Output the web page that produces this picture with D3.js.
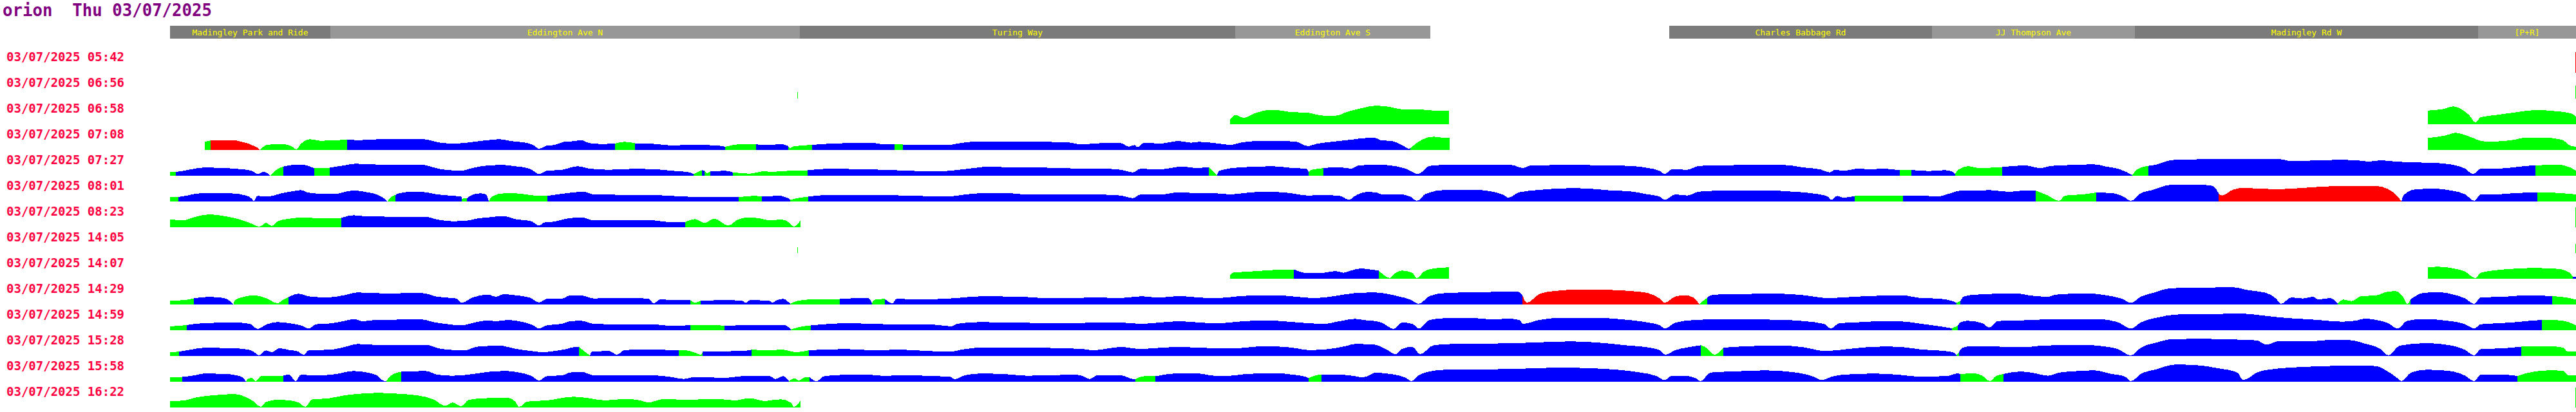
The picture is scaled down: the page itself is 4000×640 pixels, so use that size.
<!DOCTYPE html>
<html><head><meta charset="utf-8">
<script src="https://cdn.jsdelivr.net/npm/d3@7"></script>
<style>body{margin:0;background:#fff}svg{display:block}</style>
</head><body>
<script>
// ---------- data ----------
const vehicle = "orion";
const dayLabel = "Thu 03/07/2025";
const tripLabels = ["03/07/2025 05:42","03/07/2025 06:56","03/07/2025 06:58","03/07/2025 07:08",
  "03/07/2025 07:27","03/07/2025 08:01","03/07/2025 08:23","03/07/2025 14:05","03/07/2025 14:07",
  "03/07/2025 14:29","03/07/2025 14:59","03/07/2025 15:28","03/07/2025 15:58","03/07/2025 16:22"];
const stopNames = ["Madingley Park and Ride","Eddington Ave N","Turing Way","Eddington Ave S","",
  "Charles Babbage Rd","JJ Thompson Ave","Madingley Rd W","[P+R]"];
const stopBounds = [0,249,978,1654,1957,2328,2736,3051,3584,3736];
const routeLength = 3736;

// each point: [distance, speed, status-from-here]  (g = early/on time, b = on time, r = late, - = no data)
const t0542 = [];
const t0656 = [];
const t0658 = [[1646,7.7,"g"],[1655,14.3],[1661,12],[1667,10],[1682,16],[1707,22],[1719,22],[1737,19.3],[1767,17.7],[1792,13.3],[1810,13.3],[1828,19.3],[1852,25.3],[1871,28.7],[1889,27.7],[1913,23.3],[1944,22.7],[1962,21.3],[1986,21,"-"],[3506,21.3,"g"],[3528,23.3],[3546,27.7],[3558,23.3],[3570,14.3],[3580,2.7],[3588,11],[3612,14.3],[3648,19.3],[3672,22],[3708,20],[3729,16.7],[3736,12]];
const t0708 = [[54,13,"g"],[63,14.7,"r"],[70,14.7],[103,14.7],[109,13.3],[118,11],[127,7.7],[136,3.3],[140,0,"g"],[150,7.7],[161,8.7],[179,8.7],[191,4.3],[196,1],[203,9.3],[218,16.7],[233,14.3],[245,14.7],[275,16,"b"],[294,15.3],[324,16.7],[355,17],[391,17],[403,15.3],[421,11],[445,10],[476,13.3],[494,15.3],[512,16.7],[530,13.7],[548,12],[564,7.7],[573,2],[585,6.7],[597,7.7],[612,12.7],[627,13.7],[639,15.3],[651,10.7],[670,9.3],[691,10,"g"],[706,12.7],[722,10.5,"b"],[755,9.3],[779,7],[797,7.7],[827,7.7],[852,6.7],[862,5,"g"],[888,9.3],[910,8.7,"b"],[931,7.7],[949,9.3],[960,6,"g"],[963,2.7],[967,5.3],[979,6.7],[997,8,"b"],[1052,10.7],[1095,10.7],[1107,8.7],[1125,9,"g"],[1138,8.5,"b"],[1173,7.7],[1210,7.7],[1222,10],[1258,13.3],[1295,12.7],[1343,12.7],[1392,12],[1416,8.7],[1446,10.7],[1476,10.7],[1489,5.3],[1498,7.7],[1502,4.3],[1513,11.3],[1537,10],[1567,14],[1585,11.3],[1598,12.7],[1628,10],[1646,8],[1664,11.7],[1688,14],[1719,14.3],[1749,12.7],[1767,6],[1779,9.3],[1804,12.7],[1834,16],[1858,18.7],[1871,18.7],[1880,15.3],[1898,13.7],[1913,7.7],[1924,2],[1926,3,"g"],[1944,16],[1962,20.7],[1980,18.7],[1987,18.7,"-"],[3506,18.7,"g"],[3534,22.7],[3549,26.7],[3570,21],[3594,13.3],[3612,13.3],[3636,15.3],[3660,19.3],[3684,19.3],[3714,16],[3729,6],[3736,5.3]];
const t0727 = [[0,6,"g"],[9,6,"b"],[21,7.7],[33,10],[52,12.7],[82,12],[112,10],[127,7.7],[136,2.7],[146,6],[156,0,"g"],[161,6],[173,13.3],[176,14.3,"b"],[197,17.3],[209,16.7],[224,11.5,"g"],[248,12.5,"b"],[270,16],[288,18.7],[324,17.3],[391,17.3],[403,14.7],[421,10],[452,8],[470,12],[494,16],[518,16.7],[536,14.7],[555,12],[564,7.7],[573,2.7],[585,7.7],[609,9.3],[633,14.7],[652,11],[682,9.3],[718,10.7],[755,10],[779,7.7],[803,6],[813,2.7,"g"],[826,8.7,"b"],[830,8,"g"],[834,4],[839,6.7,"b"],[863,7.7],[874,5.3,"g"],[900,3.3],[912,5.3],[924,7.3],[931,6],[961,7.7],[990,8.5,"b"],[1022,10.7],[1083,10],[1143,8],[1186,6.7],[1210,7.7],[1246,11.7],[1270,14],[1325,12.7],[1355,12.7],[1416,11],[1446,11],[1476,9.3],[1495,5.3],[1507,10.7],[1537,10],[1573,14.3],[1592,12],[1613,13.3,"g"],[1626,1,"b"],[1629,7.7],[1658,12.7],[1713,14.7],[1743,12],[1764,11],[1768,6,"g"],[1773,9.3],[1785,11],[1791,12,"b"],[1816,13.3],[1834,11],[1846,16],[1876,17.3],[1895,16],[1919,11],[1938,2.7],[1956,15.3],[1992,17.3],[2023,16.7],[2053,17.3],[2083,16.7],[2101,12],[2113,16],[2174,16.7],[2235,16],[2265,15.3],[2295,12],[2313,7.7],[2321,2.7],[2332,10],[2356,9.3],[2374,15.3],[2416,16.3],[2477,17],[2507,16.7],[2538,12.7],[2562,10],[2577,5.3],[2586,9.3],[2598,7.7],[2622,11],[2641,10],[2659,11],[2686,8.5,"g"],[2704,9,"b"],[2732,7.3],[2756,8.7],[2768,6],[2772,2.7,"g"],[2777,9.3],[2792,14.7],[2796,14.3],[2808,12],[2845,13.5,"b"],[2880,16],[2904,12],[2922,15.3],[2952,16.7],[2988,17.7],[3006,14.3],[3024,11],[3036,6.7],[3047,1,"g"],[3054,9.3],[3072,15.3,"b"],[3084,17.3],[3108,24.3],[3132,25.3],[3216,26],[3276,25.7],[3294,22.7],[3318,23.3],[3366,24.7],[3396,24],[3414,22],[3432,24],[3456,22],[3486,20.7],[3516,20],[3546,16.7],[3564,11],[3576,2.7],[3588,11],[3612,11],[3636,12.7],[3660,15.3],[3673,16,"g"],[3708,17.3],[3726,13.3],[3736,7.7]];
const t0801 = [[0,7,"g"],[13,7,"b"],[27,9.3],[39,12],[52,12.7],[94,12.7],[118,9.3],[127,4.3],[130,1],[136,8.7],[149,7.7],[161,9.3],[173,12.7],[191,16],[203,17.7],[215,13.7],[239,12],[258,12],[276,16],[288,17],[306,14.3],[321,11],[333,4.3],[338,0,"g"],[342,6],[350,10,"b"],[355,12.7],[379,15.3],[397,14.3],[415,11],[433,9.3],[452,7.7],[453,4.3,"g"],[461,5,"b"],[467,9.3],[482,12.7],[491,11],[495,0,"g"],[500,7.7],[518,12.7],[536,12.7],[555,10.7],[573,8.7],[586,8.7,"b"],[609,12],[633,14.7],[642,15.3],[658,11],[682,10.7],[718,10],[748,10],[779,8.7],[809,7.3],[864,7],[883,6.7,"g"],[906,8.7],[919,8,"b"],[931,8],[943,9.3],[958,6],[963,2.7,"g"],[979,6],[991,7.5,"b"],[1022,10],[1083,10],[1143,9.3],[1204,7.7],[1246,12],[1270,13.3],[1307,12.7],[1331,10.7],[1367,11.3],[1446,10.7],[1476,9.3],[1495,5.3],[1507,10.7],[1537,10.7],[1567,14.3],[1598,12.7],[1616,13.3],[1646,11],[1670,13.3],[1701,15.3],[1737,13.3],[1767,9.3],[1792,10],[1816,8.7],[1831,2.7],[1840,8.7],[1858,14.7],[1871,14.3],[1883,11],[1907,11.3],[1926,7.7],[1936,1],[1950,12],[1980,18],[2029,18],[2053,15.3],[2071,10],[2078,6],[2095,14.3],[2126,18],[2174,20.7],[2204,20],[2235,17.3],[2265,16],[2295,11],[2313,7.7],[2321,2.7],[2338,11],[2356,9.3],[2374,15.3],[2416,17],[2477,17.3],[2519,15.3],[2550,12.7],[2574,7.7],[2580,2.7],[2589,8.7],[2598,6],[2616,8.5,"g"],[2659,8.7],[2691,9.5,"b"],[2719,9.3],[2744,7.7],[2762,12],[2780,16.7],[2796,16.7],[2826,17.7],[2856,15],[2874,16.7],[2897,17,"g"],[2916,9.3],[2933,1],[2943,9.3],[2970,11],[2991,14,"b"],[3018,12.7],[3033,7.7],[3045,1],[3060,12.7],[3078,17.7],[3108,26],[3132,26],[3168,25.3],[3177,19.3],[3181,12.7,"r"],[3186,9.3],[3204,18.7],[3222,21.3],[3240,20],[3276,19.3],[3306,20.7],[3336,22.7],[3372,24],[3426,24],[3444,19.3],[3456,11],[3465,0,"b"],[3468,9.3],[3486,18.7],[3516,20],[3540,17.3],[3564,11],[3578,1],[3588,11],[3612,11],[3636,12.7],[3676,14.3,"g"],[3708,13.3],[3736,11]];
const t0823 = [[0,12,"g"],[21,11],[39,16],[61,20],[82,17.7],[106,12.7],[124,6.7],[139,1],[149,6.7],[158,2],[167,9.3],[185,13.3],[209,15.3],[233,13.7],[266,14.5,"b"],[285,18.7],[306,16.7],[397,16],[415,12],[439,9.3],[464,10.7],[476,13.3],[494,15.3],[518,17.3],[536,12.7],[561,9.3],[573,2.7],[582,7.7],[597,8.7],[615,13.3],[639,15.3],[658,10.7],[748,10.7],[779,7.7],[800,8,"g"],[815,12.7],[830,6.7],[845,13.3],[867,2.7],[882,12],[900,15.3],[918,13.3],[931,10.7],[949,12],[961,7.7],[969,1],[979,10.7]];
const t1405 = [];
const t1407 = [[1646,6,"g"],[1652,10],[1670,10.7],[1707,13.3],[1745,14.5,"b"],[1767,8.7],[1792,9.3],[1810,12],[1822,9.3],[1834,12.7],[1849,16],[1867,14],[1877,12.7,"g"],[1886,5],[1894,1],[1901,7.7],[1913,12.7],[1929,9.3],[1936,1],[1947,11],[1962,16],[1986,17.7,"-"],[3506,17.7,"g"],[3522,18.7],[3546,16],[3564,11],[3580,1],[3588,9.3],[3612,13.3],[3648,16],[3672,16.7],[3708,15.3],[3726,9.3],[3731,3,"b"],[3736,2.7]];
const t1429 = [[0,6,"g"],[21,6.7],[37,9.5,"b"],[58,11.7],[76,11],[88,8.7],[95,3.3],[99,0,"g"],[100,6],[115,12],[130,14.3],[149,10],[167,2],[176,7.7],[184,11.5,"b"],[200,16.7],[215,12.7],[245,11],[270,14.3],[291,18.7],[330,17.3],[391,17.7],[415,12],[445,9.3],[453,2.7],[470,11],[494,15.3],[506,12],[518,16],[536,14.3],[558,11],[573,3.3],[585,8.7],[609,9.3],[621,14],[639,14],[658,9.3],[688,10.3],[742,9.3],[751,2],[761,7.7],[803,6.7],[808,6.7,"g"],[815,2.7],[824,6,"b"],[864,6.7],[888,6],[894,2.7],[900,6.7],[930,6],[936,2.7],[941,6],[952,8.7],[963,1,"g"],[973,5.3],[992,7.7],[1040,8.5,"b"],[1083,10.3],[1090,2.7,"g"],[1095,7.7],[1110,8.7,"b"],[1122,2],[1128,8.7],[1173,8],[1222,10],[1258,12.7],[1325,12],[1355,10],[1446,10.7],[1476,10],[1507,12.7],[1537,10.7],[1567,13.3],[1598,10.7],[1628,10],[1658,12.7],[1688,14],[1725,14],[1749,12],[1779,10],[1810,13.3],[1840,17.7],[1871,18.7],[1889,16.7],[1907,12.7],[1926,7.7],[1939,1],[1956,13.3],[1980,17.7],[2041,19.3],[2092,20],[2100,14.3,"r"],[2107,2.7],[2126,16],[2150,21],[2192,23.3],[2235,22.7],[2271,20.7],[2295,17.7],[2313,9.3],[2321,2.7],[2338,12.7],[2353,14.3],[2365,11],[2375,0,"g"],[2380,5.3],[2387,10,"b"],[2392,14.3],[2416,16],[2501,16.7],[2538,14.3],[2574,10],[2598,11],[2629,12.7],[2689,14.3],[2719,10],[2744,9.3],[2768,5.3],[2774,2.7,"g"],[2780,5.3,"b"],[2786,12.7],[2804,15.3],[2868,17.3],[2886,14.3],[2916,12],[2928,15.3],[2976,17.3],[3006,14.3],[3030,9.3],[3045,2.7],[3060,12],[3078,17.7],[3108,25.3],[3144,26],[3204,26.7],[3228,22],[3252,18.7],[3270,9.3],[3278,1],[3294,11],[3312,9.3],[3327,12],[3336,7.7],[3354,10],[3366,1,"g"],[3375,7.7],[3387,5.3],[3402,12.7],[3426,14.3],[3444,20],[3456,20.7],[3468,11],[3474,1],[3479,7.7,"b"],[3498,17.7],[3522,19.3],[3546,15.3],[3564,9.3],[3578,1],[3588,11],[3624,12],[3660,14.3],[3699,13,"g"],[3720,11],[3736,7.5]];
const t1459 = [[0,6,"g"],[26,8,"b"],[52,11],[100,12],[124,10],[136,2],[149,8.7],[167,12.7],[191,10],[203,7.7],[215,2.7],[227,9.3],[252,11],[270,14.3],[285,17.3],[300,14],[318,16],[391,16.7],[409,12.7],[427,10],[452,7.7],[476,12.7],[494,15.3],[506,14],[524,16],[548,12.7],[564,7.7],[573,2.7],[585,7.7],[609,10],[621,14],[639,14.7],[658,10],[718,8.7],[748,9.3],[779,6.7],[808,8,"g"],[839,8],[861,7.2,"b"],[900,7.7],[931,7.7],[955,7.7],[964,1,"g"],[969,2.7],[979,5.3],[995,7.5,"b"],[1052,11],[1113,9.3],[1186,8.7],[1213,6],[1222,10],[1258,12.7],[1367,11],[1476,12],[1507,10],[1537,12],[1567,14],[1598,12],[1628,10.7],[1658,13.3],[1701,15.3],[1737,13.3],[1767,11],[1792,10],[1816,14],[1840,17.7],[1858,15.3],[1871,14.3],[1883,11],[1900,2],[1913,12],[1929,10],[1939,2.7],[1956,16],[1980,18.7],[2029,18.7],[2053,16.7],[2077,18],[2095,16],[2101,10],[2126,16],[2162,19.3],[2210,19.3],[2265,16],[2295,12],[2313,8],[2321,2.7],[2338,12],[2368,16],[2416,17.3],[2507,16],[2538,14],[2568,10],[2579,2.7],[2592,11],[2629,12.7],[2659,14.3],[2695,13.3],[2719,10],[2744,6.7],[2767,3,"g"],[2776,7,"b"],[2780,12],[2792,14.7],[2814,11],[2825,4.3],[2838,14.3],[2874,15.3],[2934,17.3],[2994,17.3],[3024,12.7],[3045,2.7],[3060,12],[3084,19.3],[3120,24.7],[3180,25.3],[3216,26],[3246,23.3],[3276,20],[3336,16],[3372,13.3],[3396,15.3],[3408,18],[3426,16],[3444,11],[3459,2.7],[3474,14.7],[3498,17.3],[3540,14.3],[3564,9.3],[3578,2.7],[3588,9.3],[3636,12],[3660,14.3],[3683,16,"g"],[3708,15.5],[3725,12.5],[3736,7.5]];
const t1528 = [[0,6,"g"],[14,6.7,"b"],[33,10],[52,12.7],[100,12],[124,9.3],[133,4.3],[138,1],[149,8.7],[158,6],[170,12],[185,9.3],[197,7.7],[208,2],[215,8.7],[252,10],[276,15.3],[291,18.7],[318,17.3],[397,17.3],[421,11],[458,8.7],[476,14.3],[512,16],[536,11.3],[561,7.7],[579,6],[597,7.7],[615,10.7],[630,14.3],[635,14.3,"g"],[645,6],[652,1,"b"],[655,6.7],[682,7.7],[694,2],[706,9.3],[748,10],[790,8.5,"g"],[797,9.3],[815,5.3],[824,2],[827,6.5,"b"],[864,7.3],[900,8.7],[903,10,"g"],[931,8.7],[949,10],[973,6],[992,9,"b"],[1052,10.7],[1095,8.7],[1131,10],[1173,8],[1210,6.7],[1234,10.7],[1264,13.3],[1355,12.7],[1416,11],[1434,8.7],[1458,12],[1476,14],[1507,11],[1567,14.3],[1598,12.7],[1658,12],[1688,14.7],[1719,14.7],[1749,12],[1767,9.3],[1792,10],[1828,16],[1840,18.7],[1870,17.7],[1889,10],[1903,2.7],[1913,11],[1929,14.3],[1941,2.7],[1962,16.7],[1992,18.7],[2053,19.3],[2113,20.7],[2174,22.7],[2210,21.3],[2235,19.3],[2259,16.7],[2295,13.3],[2313,9.3],[2322,2],[2338,9.3],[2356,13.3],[2377,16.7,"g"],[2386,12.7],[2398,2],[2412,13,"b"],[2477,16],[2507,16],[2538,13.3],[2568,8],[2586,8.7],[2604,10.7],[2659,14.7],[2689,14],[2719,10],[2744,8.7],[2768,6],[2774,2,"g"],[2778,6,"b"],[2783,12.7],[2798,15.3],[2817,15.3],[2856,14],[2886,14],[2904,16],[2970,17.3],[3000,15.3],[3024,11],[3045,1],[3060,12.7],[3084,20.7],[3108,26],[3156,26.7],[3216,25.3],[3240,24.3],[3255,17.7],[3276,23.3],[3324,22.7],[3348,24.7],[3384,24.7],[3408,19.3],[3432,11],[3445,1],[3462,16],[3504,20],[3540,16.7],[3564,9.3],[3578,1],[3588,10.7],[3624,12],[3651,14.5,"g"],[3690,15.5],[3716,13],[3722,7.5],[3736,7]];
const t1558 = [[0,6.7,"g"],[19,7.5,"b"],[39,10],[52,12.7],[88,12],[106,9.3],[115,4.3],[118,0,"g"],[121,4.3],[127,6],[133,1],[142,9.3],[161,8.7],[176,9.5,"b"],[185,11],[195,1],[203,10.7],[233,10],[258,12],[285,16.7],[306,14.3],[321,10],[333,1],[336,1,"g"],[342,8.7],[359,15.5,"b"],[397,16.7],[415,11],[439,9.3],[476,12.7],[494,15.3],[524,16.7],[542,14.3],[561,9.3],[573,2],[585,8.7],[609,10],[621,14.3],[639,15.3],[658,10],[748,10],[779,7.3],[797,4.3],[815,7.3],[864,6],[888,8.7],[931,8.7],[940,4.3],[952,8.7],[961,1,"g"],[970,5.3],[976,2],[986,6.7],[993,7,"b"],[1004,1],[1016,8.7],[1046,10.7],[1089,10.7],[1113,8.7],[1125,10],[1210,8],[1219,4],[1234,10],[1258,12.7],[1295,12],[1331,9.3],[1404,11],[1416,9.3],[1428,4.3],[1440,10],[1476,10],[1495,4.3],[1499,4,"g"],[1513,8.7],[1530,8.5,"b"],[1567,13.3],[1598,12.7],[1622,9.3],[1646,9.3],[1670,12],[1719,13.3],[1743,11],[1764,7.7],[1768,5.3,"g"],[1779,10],[1788,11,"b"],[1816,11],[1840,8.7],[1852,6.7],[1864,11],[1871,14.3],[1889,12.7],[1907,10],[1919,6],[1928,1],[1938,9.3],[1956,16],[1980,18.7],[2053,19.3],[2113,20.7],[2162,22],[2204,21],[2247,18.7],[2283,14.3],[2307,9.3],[2321,2.7],[2332,9.3],[2350,9.3],[2368,6],[2377,1],[2392,14.3],[2447,16.7],[2477,17.7],[2525,14.3],[2550,8.7],[2565,2.7],[2580,7.7],[2598,11],[2647,12.7],[2683,11],[2719,7.7],[2762,9.3],[2774,12.7],[2780,12.3,"g"],[2804,12.7],[2814,9.3],[2826,1],[2835,8.7],[2847,12,"b"],[2874,16],[2898,12.7],[2916,9.3],[2934,14.3],[2964,16.7],[2988,17.7],[3012,12.7],[3036,7.7],[3045,1],[3060,12],[3084,19.3],[3114,26.7],[3144,26],[3180,21],[3210,14.3],[3219,2.7],[3228,6],[3240,14.3],[3258,18.7],[3306,22.7],[3348,24.3],[3390,25.3],[3426,24.3],[3438,19.3],[3456,7.7],[3465,1],[3480,14.3],[3504,18.7],[3540,16.7],[3564,9.3],[3578,1],[3588,11],[3624,11],[3645,9,"g"],[3672,16],[3696,17.7],[3716,17],[3724,10],[3736,10]];
const t1622 = [[0,10,"g"],[21,10.7],[39,15.3],[64,18.7],[82,20],[100,21],[118,16],[130,9.3],[141,1],[149,8.7],[167,12],[185,11],[200,7.7],[210,1],[221,12.7],[245,14],[270,18.7],[294,21.3],[324,22.7],[355,21.3],[385,18.7],[409,12.7],[427,2.7],[439,7.7],[452,2],[464,12],[488,14.3],[524,15.3],[536,9.3],[542,1],[555,9.3],[585,11],[627,16.7],[651,14.3],[676,11],[706,13.3],[730,11],[742,7.7],[767,13.3],[797,12],[827,12.7],[852,13.3],[876,11],[900,14.3],[924,10],[931,11],[949,12.7],[964,7.7],[969,1],[979,11]];
const trips = [t0542,t0656,t0658,t0708,t0727,t0801,t0823,t1405,t1407,t1429,t1459,t1528,t1558,t1622];

// single position reports: [trip index, distance, speed, status]
const singleReports = [[0,3735,32,"r"],[1,974,10,"g"],[1,3735,20,"g"],[6,3735,31,"g"],[7,974,9,"g"],[7,3735,14,"g"],[13,3735,31,"g"]];

// ---------- drawing ----------
const W = 4000, H = 640;
const statusColour = {g:"#00ff00", b:"#0000ff", r:"#ff0000"};
const svg = d3.select("body").append("svg").attr("width", W).attr("height", H);

const x = d3.scaleLinear().domain([0, routeLength]).range([264, 4000]);
const rowBase = d3.scaleLinear().domain([0, 1]).range([113, 153]);
const speed = d3.scaleLinear().domain([0, 40]).range([0, 40]);

// title
svg.append("text").attr("x", 4).attr("y", 25)
  .attr("font-family", "'DejaVu Sans Mono', monospace").attr("font-weight", "bold")
  .attr("font-size", 26).attr("fill", "#800080")
  .attr("textLength", 325).attr("lengthAdjust", "spacingAndGlyphs")
  .attr("xml:space", "preserve").style("white-space", "pre")
  .text(vehicle + "  " + dayLabel);

// stop header
const stops = stopNames.map((n, i) => ({name: n, a: stopBounds[i], b: stopBounds[i + 1]}));
let k = 0;
stops.forEach(s => { s.k = s.name ? k++ : -1; });
const hdr = svg.append("g");
hdr.selectAll("rect").data(stops.filter(s => s.name)).join("rect")
  .attr("x", s => x(s.a)).attr("y", 40).attr("width", s => x(s.b) - x(s.a)).attr("height", 20)
  .attr("fill", s => s.k % 2 === 0 ? "#7b7b7b" : "#979797").attr("shape-rendering", "crispEdges");
hdr.selectAll("text").data(stops.filter(s => s.name)).join("text")
  .attr("x", s => (x(s.a) + x(s.b)) / 2).attr("y", 55).attr("text-anchor", "middle")
  .attr("font-family", "'DejaVu Sans Mono', monospace").attr("font-size", 13)
  .attr("fill", "#ffff00").text(s => s.name);

// trip labels
svg.append("g").selectAll("text").data(tripLabels).join("text")
  .attr("x", 10).attr("y", (d, i) => rowBase(i) - 18)
  .attr("font-family", "'DejaVu Sans Mono', monospace").attr("font-weight", "bold")
  .attr("font-size", 20).attr("fill", "#ff0040")
  .attr("textLength", 183).attr("lengthAdjust", "spacingAndGlyphs")
  .text(d => d);

// split a trip into coloured runs
function runs(pts) {
  const out = [];
  let c = null, cur = null;
  for (let i = 0; i < pts.length - 1; i++) {
    if (pts[i][2] !== undefined) c = pts[i][2];
    if (c === "-") { cur = null; continue; }
    if (cur && cur.c === c) cur.pts.push(pts[i + 1]);
    else { cur = {c, pts: [pts[i], pts[i + 1]]}; out.push(cur); }
  }
  return out;
}

const plot = svg.append("g");
trips.forEach((pts, i) => {
  const base = rowBase(i);
  const area = d3.area().x(p => x(p[0])).y0(base).y1(p => base - speed(p[1])).curve(d3.curveMonotoneX);
  plot.append("g").selectAll("path").data(runs(pts)).join("path")
    .attr("d", r => area(r.pts)).attr("fill", r => statusColour[r.c])
    .attr("shape-rendering", "crispEdges");
});

plot.append("g").selectAll("rect").data(singleReports).join("rect")
  .attr("x", d => Math.floor(x(d[1]))).attr("width", 1)
  .attr("y", d => rowBase(d[0]) - speed(d[2])).attr("height", d => speed(d[2]))
  .attr("fill", d => statusColour[d[3]]).attr("shape-rendering", "crispEdges");
</script>
</body></html>
